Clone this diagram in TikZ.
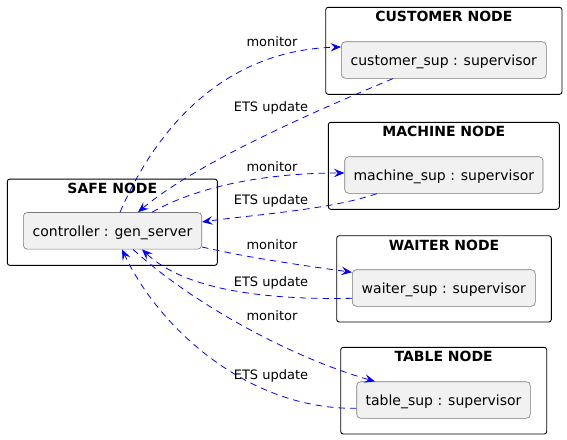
\documentclass[tikz,border=0pt]{standalone}
\usepackage{fontspec}
\setmainfont{DejaVu Sans}
\usetikzlibrary{arrows.meta}
\definecolor{boxfill}{HTML}{F1F1F1}
\definecolor{boxline}{HTML}{7A7A7A}
\definecolor{edgeblue}{HTML}{0000FF}
\tikzset{
  cluster/.style={draw=black, line width=0.9pt, rounded corners=2.5pt, inner sep=0pt},
  ctitle/.style={font=\fontsize{14}{16}\selectfont\bfseries, anchor=base, inner sep=0pt},
  comp/.style={draw=boxline, fill=boxfill, line width=0.6pt, rounded corners=4pt,
    minimum height=36.6pt, inner sep=0pt, text height=11pt, text depth=0pt,
    font=\fontsize{14}{16}\selectfont},
  elabel/.style={font=\fontsize{13}{15}\selectfont, inner sep=0pt, text height=9.5pt, text depth=0pt},
  link/.style={draw=edgeblue, line width=0.8pt, dash pattern=on 6.5pt off 5pt,
    -{Stealth[length=10.5pt,width=8.5pt,inset=4pt]}},
}
\begin{document}
\begin{tikzpicture}[x=1pt,y=-1pt]
\useasboundingbox (0,0) rectangle (567,439);
% clusters
\node[cluster, minimum width=210pt, minimum height=86.3pt] (safe) at (112.3,222.2) {};
\node[cluster, minimum width=236.3pt, minimum height=87pt] (cust) at (443.85,50.8) {};
\node[cluster, minimum width=231pt, minimum height=87pt] (mach) at (443.8,165.8) {};
\node[cluster, minimum width=214.6pt, minimum height=86.3pt] (wait) at (444,278.85) {};
\node[cluster, minimum width=206pt, minimum height=86.7pt] (tabl) at (443.7,390.65) {};
% titles
\node[ctitle] (safet) at (112.3,193.5) {SAFE NODE};
\node[ctitle] (custt) at (443.85,21.8) {CUSTOMER NODE};
\node[ctitle] (macht) at (443.8,136.8) {MACHINE NODE};
\node[ctitle] (waitt) at (444,250.2) {WAITER NODE};
\node[ctitle] (tablt) at (443.7,361.8) {TABLE NODE};
% components
\node[comp, minimum width=178.4pt] (ctrl) at (112.5,230.8) {controller : gen\_server};
\node[comp, minimum width=205pt] (cs) at (443.8,60) {customer\_sup : supervisor};
\node[comp, minimum width=198.3pt] (ms) at (443.85,175) {machine\_sup : supervisor};
\node[comp, minimum width=183pt] (ws) at (443.8,288) {waiter\_sup : supervisor};
\node[comp, minimum width=173.6pt] (ts) at (443.5,400) {table\_sup : supervisor};
% edges
\draw[link] ([xshift=7.5pt]ctrl.north) .. controls (160,120) and (230,50) .. ([yshift=13pt]cs.west);
\draw[link] ([xshift=-50.8pt]cs.south) .. controls (330,105) and (200,160) .. ([xshift=25.5pt]ctrl.north);
\draw[link] ([xshift=39.5pt]ctrl.north) .. controls (200,185) and (270,173) .. ([yshift=2pt]ms.west);
\draw[link] ([xshift=-67pt]ms.south) .. controls (330,210) and (250,215) .. ([yshift=8.8pt]ctrl.east);
\draw[link] ([yshift=-16.2pt]ctrl.east) .. controls (250,258) and (300,265) .. ([yshift=15.7pt]ws.west);
\draw[link] ([yshift=-10.3pt]ws.west) .. controls (265,300) and (185,290) .. ([xshift=29.5pt]ctrl.south);
\draw[link] ([xshift=20.5pt]ctrl.south) .. controls (200,310) and (300,360) .. ([xshift=-68.5pt]ts.north);
\draw[link] ([yshift=-8.3pt]ts.west) .. controls (250,410) and (160,330) .. ([xshift=9.5pt]ctrl.south);
% labels
\node[elabel] (l1) at (272,41.7) {monitor};
\node[elabel] (l2) at (271,106.7) {ETS update};
\node[elabel] (l3) at (272,166.7) {monitor};
\node[elabel] (l4) at (271,200) {ETS update};
\node[elabel] (l5) at (272,244.3) {monitor};
\node[elabel] (l6) at (271,281.7) {ETS update};
\node[elabel] (l7) at (272,315.7) {monitor};
\node[elabel] (l8) at (271,374.3) {ETS update};
\end{tikzpicture}
\end{document}
